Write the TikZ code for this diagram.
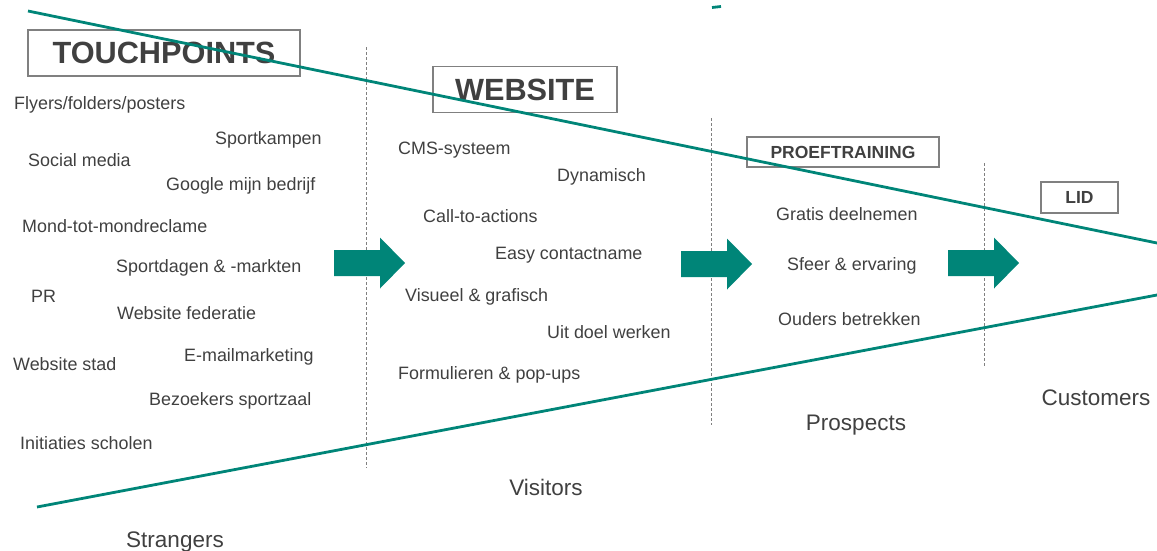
\documentclass[tikz,border=0pt]{standalone}
\usepackage{fontspec}
\setmainfont{Liberation Sans}
\usepackage{tikz}
\usetikzlibrary{arrows.meta}
\definecolor{funnel}{RGB}{0,133,120}
\definecolor{ink}{RGB}{64,64,64}
\tikzset{
  item/.style={anchor=base west, inner sep=0pt, text=ink, font=\fontsize{17.9}{20}\selectfont},
  stage/.style={anchor=base, inner sep=0pt, text=ink, font=\fontsize{22.5}{26}\selectfont},
  bigbox/.style={draw=gray, line width=1.2pt, inner sep=0pt, text=ink, font=\bfseries\fontsize{30.7}{34}\selectfont},
  smallbox/.style={draw=gray, line width=1.2pt, inner sep=0pt, text=ink, font=\bfseries\fontsize{17.5}{20}\selectfont},
  divider/.style={densely dashed, gray, line width=0.7pt},
  funnelline/.style={funnel, line width=2.8pt}
}

\begin{document}
\begin{tikzpicture}[x=1pt, y=-1pt]
  \useasboundingbox (0,0) rectangle (1157,550);

  \newcommand\Pijl[2]{\fill[funnel] (#1,#2-13) -- (#1+46,#2-13) -- (#1+46,#2-25.5)
    -- (#1+71,#2) -- (#1+46,#2+25.5) -- (#1+46,#2+13) -- (#1,#2+13) -- cycle;}

  %% column dividers
  \draw[divider] (366,47) -- (366,468);
  \draw[divider] (711,118) -- (711,425);
  \draw[divider] (984,163) -- (984,367);

  %% headers
  \node[bigbox, minimum width=272pt, minimum height=46pt] (touch) at (164,53) {TOUCHPOINTS};
  \node[bigbox, minimum width=184pt, minimum height=46pt] (web) at (525,89.5) {WEBSITE};
  \node[smallbox, minimum width=192pt, minimum height=30pt] (proef) at (843,152) {PROEFTRAINING};
  \node[smallbox, minimum width=77pt, minimum height=31pt] (lid) at (1079.5,197.5) {LID};

  %% touchpoints
  \node[item] (flyers) at (14,109) {Flyers/folders/posters};
  \node[item] (kamp) at (215,144) {Sportkampen};
  \node[item] (social) at (28,166) {Social media};
  \node[item] (google) at (166,190) {Google mijn bedrijf};
  \node[item] (mond) at (22,232) {Mond-tot-mondreclame};
  \node[item] (dagen) at (116,272) {Sportdagen \& -markten};
  \node[item] (pr) at (31,302) {PR};
  \node[item] (fed) at (117,319) {Website federatie};
  \node[item] (mail) at (184,361) {E-mailmarketing};
  \node[item] (stad) at (13,370) {Website stad};
  \node[item] (zaal) at (149,405) {Bezoekers sportzaal};
  \node[item] (school) at (20,449) {Initiaties scholen};

  %% website
  \node[item] (cms) at (398,154) {CMS-systeem};
  \node[item] (dyn) at (557,181) {Dynamisch};
  \node[item] (cta) at (423,222) {Call-to-actions};
  \node[item] (easy) at (495,259) {Easy contactname};
  \node[item] (vis) at (405,301) {Visueel \& grafisch};
  \node[item] (doel) at (547,338) {Uit doel werken};
  \node[item] (form) at (398,379) {Formulieren \& pop-ups};

  %% proeftraining
  \node[item] (gratis) at (776,220) {Gratis deelnemen};
  \node[item] (sfeer) at (787,270) {Sfeer \& ervaring};
  \node[item] (ouders) at (778,325) {Ouders betrekken};

  %% stages
  \node[stage] (strangers) at (175,547) {Strangers};
  \node[stage] (visitors) at (546,495) {Visitors};
  \node[stage] (prospects) at (856,430) {Prospects};
  \node[stage] (customers) at (1096,405) {Customers};

  %% arrows
  \Pijl{334}{263}
  \Pijl{681}{264}
  \Pijl{948}{263}

  %% funnel
  \coordinate (topL) at (28,11);
  \coordinate (topR) at (1157,243);
  \coordinate (botL) at (37,507);
  \coordinate (botR) at (1157,295);
  \draw[funnelline] (topL) -- (topR);
  \draw[funnelline] (botL) -- (botR);
  \draw[funnelline] (712,7.5) -- (721,6.5);

\end{tikzpicture}
\end{document}
